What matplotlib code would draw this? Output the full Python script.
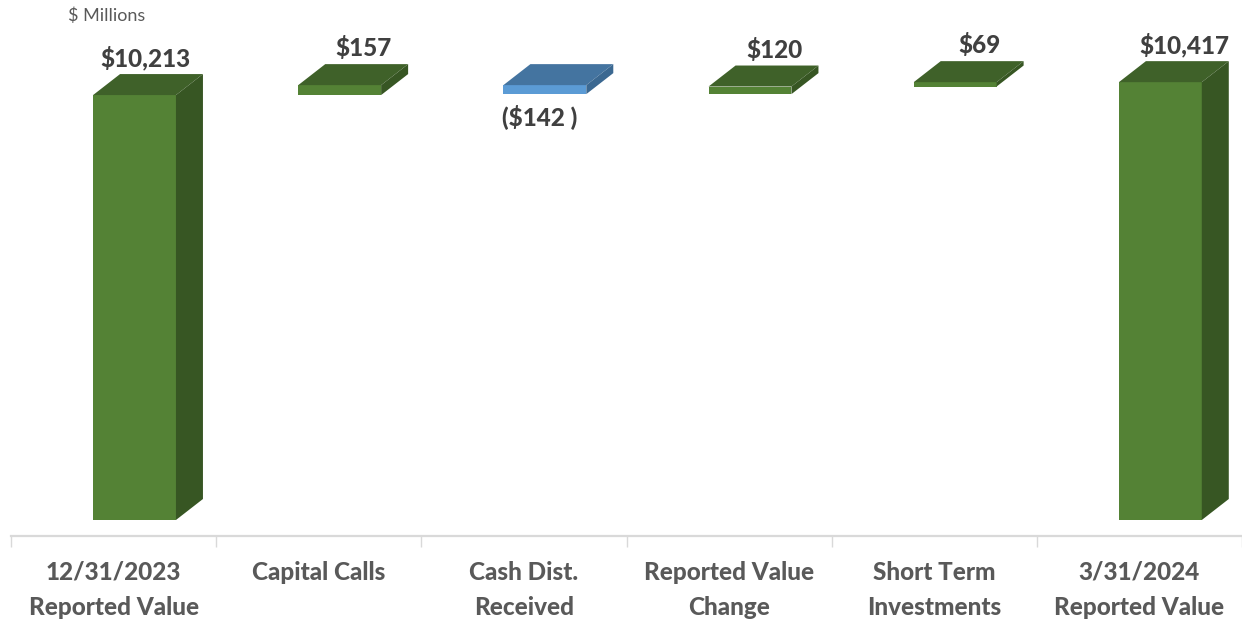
import matplotlib
matplotlib.use('Agg')
import matplotlib.pyplot as plt
from matplotlib.patches import Polygon

# Waterfall data ($ millions)
categories = ['12/31/2023\nReported Value', 'Capital Calls', 'Cash Dist.\nReceived',
              'Reported Value\nChange', 'Short Term\nInvestments', '3/31/2024\nReported Value']
values = [10213, 157, -142, 120, 69, 10417]
is_total = [True, False, False, False, False, True]
value_labels = ['$10,213', '$157', '($142 )', '$120', '$69', '$10,417']

# Styling
GREEN = ('#548235', '#3f6129', '#375623')   # front, top, side
BLUE = ('#5b9bd5', '#4474a0', '#3b6891')
LABEL_COLOR = '#404040'
CAT_COLOR = '#595959'
FONT = ['Lato', 'DejaVu Sans']
WEIGHT = 900

W, H = 1242, 622
fig = plt.figure(figsize=(W / 100, H / 100), dpi=100)
ax_left, ax_right, ax_bot, ax_top = 11, 1242, 536, 0
ax = fig.add_axes([ax_left / W, (H - ax_bot) / H, (ax_right - ax_left) / W, (ax_bot - ax_top) / H])

floor = 3500          # value axis floor the totals stand on
px_per_m = 0.0633     # vertical pixels per $ million
px_per_cat = (ax_right - ax_left) / len(categories)
ymin = floor - 16 / px_per_m
ymax = ymin + (ax_bot - ax_top) / px_per_m
ax.set_xlim(0, len(categories))
ax.set_ylim(ymin, ymax)

# 3D look: face geometry in category units / pixels
front_off, front_w = 0.40, 0.404
depth_x = 27 / px_per_cat
depth_y = 21 / px_per_m
# the first total's label sits a bit left in the original layout
label_nudge = {0: -13}


def draw_box(x0, y0, y1, colors):
    front, top, side = colors
    x1 = x0 + front_w
    ax.add_patch(Polygon([(x0, y0), (x1, y0), (x1, y1), (x0, y1)], closed=True,
                         facecolor=front, edgecolor='none', zorder=3))
    ax.add_patch(Polygon([(x0, y1), (x1, y1), (x1 + depth_x, y1 + depth_y),
                          (x0 + depth_x, y1 + depth_y)], closed=True,
                         facecolor=top, edgecolor='none', zorder=3))
    ax.add_patch(Polygon([(x1, y0), (x1 + depth_x, y0 + depth_y),
                          (x1 + depth_x, y1 + depth_y), (x1, y1)], closed=True,
                         facecolor=side, edgecolor='none', zorder=3))


running = 0
for i, (v, tot, lab) in enumerate(zip(values, is_total, value_labels)):
    x0 = i + front_off
    if tot:
        lo, hi = floor, v
        running = v
    else:
        lo, hi = sorted([running, running + v])
        running += v
    colors = BLUE if v < 0 else GREEN
    draw_box(x0, lo, hi, colors)
    if v < 0:
        ax.text(x0 + front_w / 2 - 5 / px_per_cat, lo - 23 / px_per_m, lab,
                ha='center', va='center', fontsize=17.5, fontweight=WEIGHT,
                color=LABEL_COLOR, family=FONT)
    else:
        lx = x0 + depth_x + front_w / 2 + (label_nudge.get(i, 0) - 3) / px_per_cat
        ax.text(lx, hi + depth_y + 16 / px_per_m, lab,
                ha='center', va='center', fontsize=17.5, fontweight=WEIGHT,
                color=LABEL_COLOR, family=FONT)

# Category axis
for s in ['top', 'left', 'right']:
    ax.spines[s].set_visible(False)
ax.spines['bottom'].set_color('#d9d9d9')
ax.spines['bottom'].set_linewidth(1.6)
ax.set_yticks([])
ax.set_xticks([i + 0.5 for i in range(len(categories))])
ax.set_xticklabels(categories, fontsize=17.5, fontweight=WEIGHT, color=CAT_COLOR,
                   family=FONT, linespacing=1.62)
ax.tick_params(axis='x', which='major', length=0, pad=18)
ax.set_xticks(range(len(categories) + 1), minor=True)
ax.tick_params(axis='x', which='minor', length=8, width=1, color='#d9d9d9')

fig.text(68 / W, 1 - 16 / H, '$ Millions', fontsize=13, color=CAT_COLOR,
         family=FONT, ha='left', va='center')

fig.savefig('out.png', dpi=100, facecolor='white')
